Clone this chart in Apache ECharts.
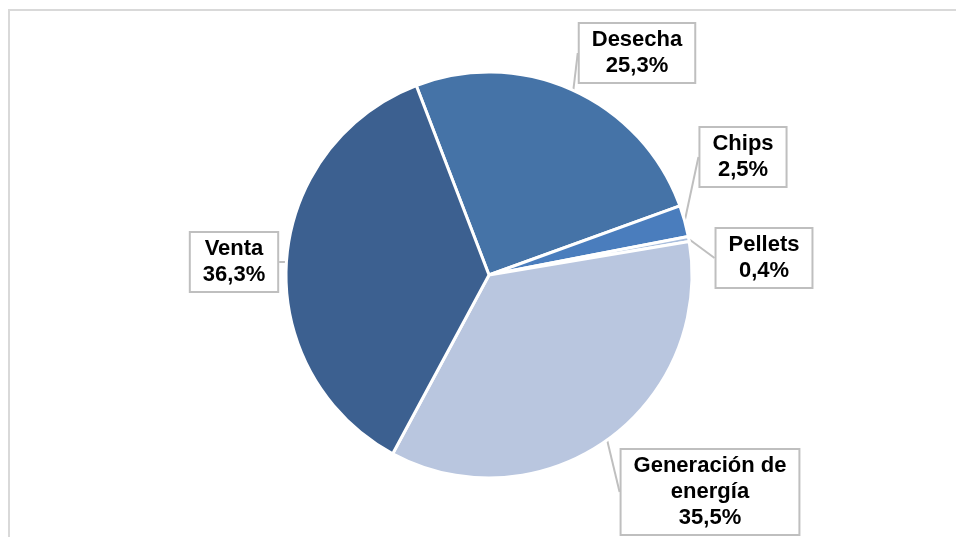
<!DOCTYPE html>
<html>
<head>
<meta charset="utf-8">
<script src="https://cdn.jsdelivr.net/npm/echarts@6/dist/echarts.min.js"></script>
<style>
html, body { margin: 0; padding: 0; background: #fff; }
#container { width: 956px; height: 537px; }
</style>
</head>
<body>
<div id="container"></div>
<script>
var categories = ['Desecha', 'Chips', 'Pellets', 'Generación de energía', 'Venta'];
var labelNames = ['Desecha', 'Chips', 'Pellets', 'Generación de\nenergía', 'Venta'];
var shares = [25.3, 2.5, 0.4, 35.5, 36.3];
var colors = ['#4573a7', '#4a7dbd', '#a9bedd', '#b9c6df', '#3c6090'];

// where each callout box sits (centre of box)
var labelPos = [[637, 53], [743, 157], [764, 258], [710, 492], [234, 262]];

window.onload = function()
{
var myChart = echarts.init(document.getElementById('container'));
var data = categories.map(function (c, i) {
    return { name: c, value: shares[i], itemStyle: { color: colors[i] } };
});
var option = {
    animation: false,
    graphic: [{
        type: 'rect',
        shape: { x: 9, y: 10, width: 1000, height: 600 },
        style: { fill: 'none', stroke: '#d9d9d9', lineWidth: 2 },
        silent: true
    }],
    series: [{
        type: 'pie',
        center: [489, 275],
        radius: 203,
        startAngle: 111,
        clockwise: true,
        data: data,
        itemStyle: { borderColor: '#fff', borderWidth: 3 },
        label: {
            show: true,
            formatter: function (p) {
                return labelNames[p.dataIndex] + '\n' + shares[p.dataIndex].toFixed(1).replace('.', ',') + '%';
            },
            fontFamily: 'Liberation Sans, Arial, sans-serif',
            fontWeight: 'bold',
            fontSize: 22,
            lineHeight: 26,
            color: '#000',
            align: 'center',
            backgroundColor: '#fff',
            borderColor: '#bfbfbf',
            borderWidth: 2,
            padding: [3, 12]
        },
        labelLine: {
            show: true,
            length: 0,
            length2: 0,
            lineStyle: { color: '#bfbfbf', width: 2 }
        },
        labelLayout: function (p) {
            var pos = labelPos[p.dataIndex];
            return { x: pos[0], y: pos[1], align: 'center', verticalAlign: 'middle' };
        }
    }]
};
myChart.setOption(option);
};
</script>
</body>
</html>
